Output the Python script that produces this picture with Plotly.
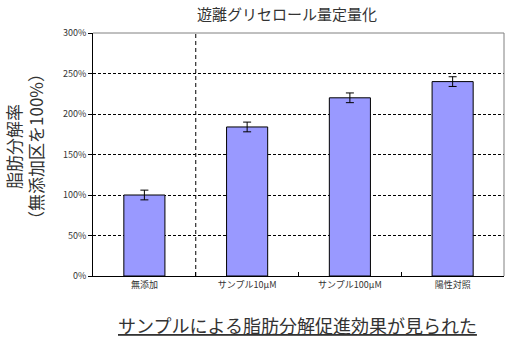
import plotly.graph_objects as go

categories = ["無添加", "サンプル10μM", "サンプル100μM", "陽性対照"]
values = [100, 184, 220, 240]
errors = [6, 6, 6, 6]
ytickvals = [0, 50, 100, 150, 200, 250, 300]
yticktext = ["0%", "50%", "100%", "150%", "200%", "250%", "300%"]
title_text = "遊離グリセロール量定量化"
ytitle = "脂肪分解率<br>（無添加区を100%）"
note = "サンプルによる脂肪分解促進効果が見られた"

FONT = "Noto Sans CJK JP"

fig = go.Figure()
fig.add_trace(go.Bar(
    x=categories, y=values,
    marker=dict(color="#9999FF", line=dict(color="black", width=1)),
    width=0.4,
    error_y=dict(type="data", array=errors, visible=True, color="black", thickness=1, width=4),
))

fig.update_layout(
    width=519, height=349,
    margin=dict(l=93, r=15, t=33, b=73),
    paper_bgcolor="white", plot_bgcolor="white",
    showlegend=False,
    font=dict(family=FONT, color="#333333"),
    title=dict(text=title_text, x=0.472, xref="paper", xanchor="center",
               y=1 - 15 / 349, yref="container", yanchor="middle",
               font=dict(size=15, family=FONT, color="#333333")),
    xaxis=dict(
        showline=True, linecolor="black", linewidth=1,
        ticks="inside", tickson="boundaries", ticklen=4, tickcolor="black",
        tickfont=dict(size=9, family=FONT, color="#333333"),
        showgrid=False, range=[-0.5, 3.5],
    ),
    yaxis=dict(
        range=[0, 300], tickmode="array", tickvals=ytickvals, ticktext=yticktext,
        showline=True, linecolor="black", linewidth=1,
        ticks="outside", ticklen=4, tickcolor="black",
        tickfont=dict(size=9, family=FONT, color="#333333"),
        showgrid=True, gridcolor="black", griddash="3px,2px", gridwidth=1,
        zeroline=False,
    ),
    shapes=[
        dict(type="line", xref="x", yref="y", x0=0.5, x1=0.5, y0=0, y1=300,
             line=dict(color="black", width=1, dash="4px,3px")),
        dict(type="line", xref="paper", yref="paper", x0=0, x1=1, y0=1, y1=1,
             line=dict(color="#808080", width=1)),
        dict(type="line", xref="paper", yref="paper", x0=1, x1=1, y0=0, y1=1,
             line=dict(color="#808080", width=1)),
    ],
    annotations=[
        dict(text=ytitle, xref="paper", yref="paper", x=(25 - 93) / 411, y=0.531,
             textangle=-90, showarrow=False, xanchor="center", yanchor="middle",
             font=dict(size=17, family=FONT, color="#333333")),
        dict(text="<u>" + note + "</u>", xref="paper", yref="paper",
             x=(297 - 93) / 411, y=(276 - 325) / 243,
             showarrow=False, xanchor="center", yanchor="middle",
             font=dict(size=18, family=FONT, color="#333333")),
    ],
)

fig.write_html("out.html")
